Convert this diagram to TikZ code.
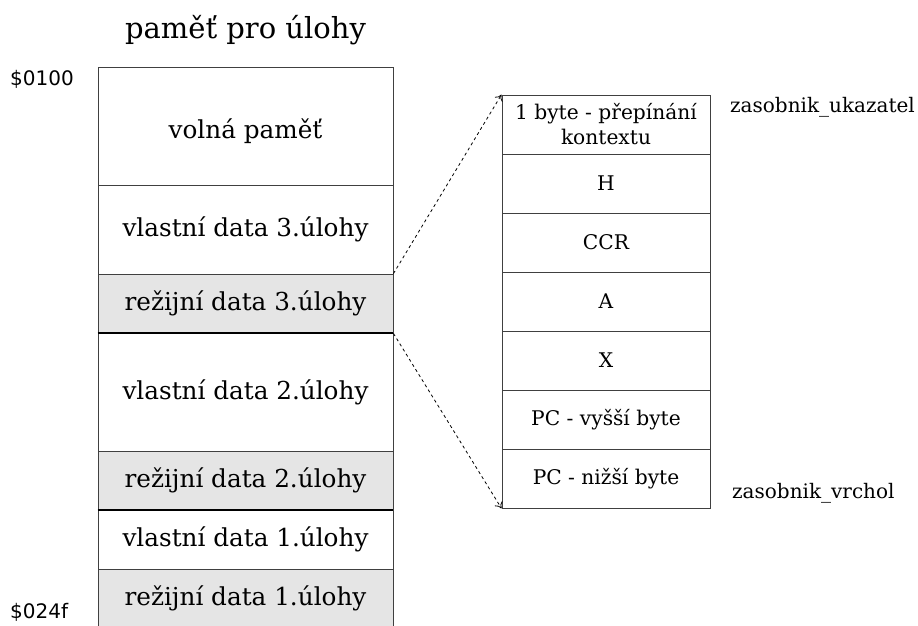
\documentclass[tikz,border=0pt]{standalone}
\usepackage{fontspec}
\setmainfont{DejaVu Serif}
\setsansfont{DejaVu Sans}
\usetikzlibrary{arrows.meta}
\definecolor{regfill}{HTML}{E5E5E5}
\tikzset{
  cell/.style={draw=black!75, line width=0.9pt, minimum width=295pt, inner sep=0pt, font=\fontsize{24.7}{29}\selectfont},
  rcell/.style={draw=black!75, line width=0.9pt, minimum width=208pt, minimum height=59pt, inner sep=0pt, font=\fontsize{20.2}{25}\selectfont, align=center},
  reg/.style={fill=regfill},
  addr/.style={font=\sffamily\fontsize{20}{22}\selectfont, anchor=west, inner sep=0pt},
  side/.style={font=\fontsize{20}{22}\selectfont, anchor=west, inner sep=0pt},
  link/.style={dashed, line width=0.8pt, -{To[length=6pt,width=9pt]}},
  sep/.style={line width=2pt, black}
}
\begin{document}
\begin{tikzpicture}[x=1pt,y=-1pt]
\clip (0,0) rectangle (918,625);
\fill[white] (0,0) rectangle (918,625);
\node[font=\fontsize{29}{33}\selectfont] (title) at (245.5,30) {paměť pro úlohy};
\node[cell, minimum height=118pt] (free) at (245.5,126) {};
\node (freetext) at (245.5,131) [font=\fontsize{24.7}{29}\selectfont, inner sep=0pt] {volná paměť};
\node[cell, minimum height=89pt] (own3) at (245.5,229.5) {vlastní data 3.úlohy};
\node[cell, reg, minimum height=59pt] (reg3) at (245.5,303.5) {režijní data 3.úlohy};
\node[cell, minimum height=118pt] (own2) at (245.5,392) {vlastní data 2.úlohy};
\node[cell, reg, minimum height=59pt] (reg2) at (245.5,480.5) {režijní data 2.úlohy};
\node[cell, minimum height=59pt] (own1) at (245.5,539.5) {vlastní data 1.úlohy};
\node[cell, reg, minimum height=59pt] (reg1) at (245.5,598.5) {režijní data 1.úlohy};
\draw[sep] (reg3.south west) -- (reg3.south east);
\draw[sep] (reg2.south west) -- (reg2.south east);
\node[addr] (a0) at (10,79) {\$0100};
\node[addr] (a1) at (10,612) {\$024f};
\node[rcell] (ctx) at (606,124.5) {1 byte - přepínání\\kontextu};
\node[rcell] (h) at (606,183.5) {H};
\node[rcell] (ccr) at (606,242.5) {CCR};
\node[rcell] (ra) at (606,301.5) {A};
\node[rcell] (rx) at (606,360.5) {X};
\node[rcell] (pch) at (606,419.5) {PC - vyšší byte};
\node[rcell] (pcl) at (606,478.5) {PC - nižší byte};
\node[side] (ptr) at (730,107) {zasobnik\_ukazatel};
\node[side] (top) at (732,493) {zasobnik\_vrchol};
\draw[link] (reg3.north east) -- (ctx.north west);
\draw[link] (reg3.south east) -- (pcl.south west);
\end{tikzpicture}
\end{document}
